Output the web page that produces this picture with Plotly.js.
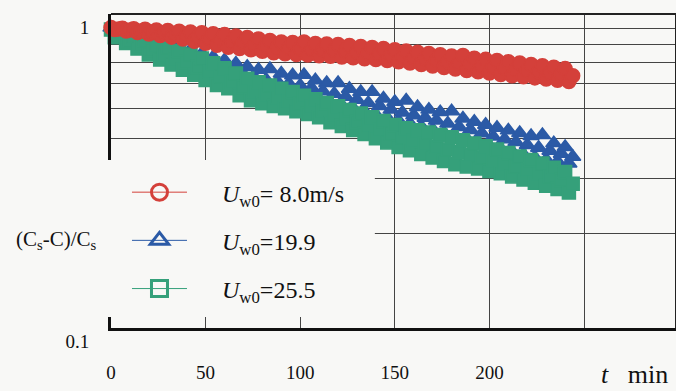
<!DOCTYPE html>
<html><head><meta charset="utf-8">
<script src="https://cdn.plot.ly/plotly-3.0.1.min.js"></script>
<style>html,body{margin:0;padding:0;background:#f8f8f6}#chart{width:676px;height:391px}</style>
</head><body><div id="chart"></div>
<script>
// time (min)
const tMin = [0,2,4,6,8,10,12,14,16,18,20,22,24,26,28,30,32,34,36,38,40,42,44,46,48,50,52,54,56,58,
  60,62,64,66,68,70,72,74,76,78,80,82,84,86,88,90,92,94,96,98,100,102,104,106,108,110,112,114,116,118,
  120,122,124,126,128,130,132,134,136,138,140,142,144,146,148,150,152,154,156,158,160,162,164,166,168,170,172,174,176,178,
  180,182,184,186,188,190,192,194,196,198,200,202,204,206,208,210,212,214,216,218,220,222,224,226,228,230,232,234,236,238,
  240,242,244];

// (Cs-C)/Cs, Uw0 = 8.0 m/s
const ratioU80 = [.905,.892,.896, .901,.882,.889, .897,.873,.883, .894,.864,.877, .890,.854,.870,
  .886,.844,.862, .881,.832,.853, .876,.819,.845, .872,.807,.836, .865,.795,.827,
  .860,.784,.818, .851,.777,.811, .842,.769,.800, .833,.761,.793, .824,.753,.784,
  .815,.747,.779, .812,.743,.776, .815,.740,.772, .806,.736,.770, .803,.733,.766,
  .800,.729,.762, .794,.725,.756, .788,.720,.751, .782,.716,.746, .776,.711,.740,
  .770,.705,.734, .763,.698,.727, .756,.690,.720, .749,.683,.712, .742,.675,.705,
  .735,.668,.698, .738,.661,.692, .723,.655,.686, .717,.649,.680, .711,.642,.674,
  .705,.636,.667, .698,.631,.661, .691,.626,.655, .684,.621,.649, .677,.615,.642,
  .670,.610,.636];

// (Cs-C)/Cs, Uw0 = 19.9 m/s
const ratioU199 = [.905,.878,.880, .887,.841,.852, .869,.804,.824, .850,.768,.797, .832,.734,.773,
  .812,.714,.752, .791,.694,.732, .770,.675,.712, .749,.655,.693, .730,.639,.676,
  .713,.628,.660, .696,.606,.643, .679,.590,.627, .665,.580,.618, .668,.572,.610,
  .647,.564,.601, .638,.556,.592, .640,.545,.581, .615,.534,.568, .603,.523,.557,
  .603,.512,.545, .578,.501,.533, .565,.490,.521, .565,.478,.509, .538,.467,.496,
  .525,.457,.486, .530,.448,.476, .506,.438,.467, .496,.429,.458, .487,.419,.448,
  .490,.409,.437, .465,.401,.427, .454,.390,.417, .444,.380,.407, .434,.372,.399,
  .426,.365,.391, .418,.357,.383, .409,.349,.375, .412,.344,.367, .388,.339,.359,
  .377,.334,.351];

// (Cs-C)/Cs, Uw0 = 25.5 m/s
const ratioU255 = [.892,.843,.853, .869,.809,.824, .846,.776,.796, .823,.743,.768, .801,.716,.745,
  .782,.690,.723, .762,.665,.703, .743,.640,.678, .722,.616,.655, .697,.594,.632,
  .672,.580,.608, .647,.551,.585, .622,.531,.567, .606,.520,.555, .592,.509,.543,
  .578,.501,.531, .564,.490,.519, .549,.480,.507, .535,.469,.494, .521,.452,.479,
  .508,.440,.466, .495,.427,.453, .482,.415,.441, .469,.402,.428, .456,.390,.416,
  .443,.377,.404, .433,.368,.395, .426,.358,.386, .419,.349,.378, .412,.340,.370,
  .405,.332,.363, .396,.327,.356, .387,.322,.349, .379,.316,.342, .370,.311,.335,
  .361,.304,.327, .352,.297,.319, .343,.290,.311, .334,.284,.304, .324,.277,.296,
  .314,.270,.288];

const seriesNames = ['<i>U</i><sub>w0</sub>= 8.0m/s', '<i>U</i><sub>w0</sub>=19.9', '<i>U</i><sub>w0</sub>=25.5'];
const yTickVals = [0.1,0.2,0.3,0.4,0.5,0.6,0.7,0.8,0.9,1];
const yTickText = ['0.1',' ',' ',' ',' ',' ',' ',' ',' ','1'];
const xTickVals = [0,50,100,150,200,250];
const xTickText = ['0','50','100','150','200',' '];

const RED = '#d4403a', BLUE = '#2b5aa6', GREEN = '#35a07a';
const SERIF = '"Liberation Serif", "Times New Roman", serif';
const BG = '#f8f8f6';
const GAP = '&nbsp;&nbsp;&nbsp;&nbsp;&nbsp;';

function dataTrace(y, color, symbol, size) {
  return {x: tMin, y: y, mode: 'markers', showlegend: false, cliponaxis: false,
    marker: {symbol: symbol, size: size, color: color, line: {color: color, width: 1.5}}};
}
function legendTrace(name, rank, color, symbol) {
  return {x: [null], y: [null], name: GAP + name, legendgroup: 'g' + rank, legendrank: rank,
    mode: 'lines+markers', line: {color: color, width: 1},
    marker: {symbol: symbol, size: 16, color: color, line: {color: color, width: 3}}};
}

const traces = [
  dataTrace(ratioU199, BLUE, 'triangle-up', 14),
  dataTrace(ratioU255, GREEN, 'square', 13),
  dataTrace(ratioU80, RED, 'circle', 14),
  legendTrace(seriesNames[0], 1, RED, 'circle-open'),
  legendTrace(seriesNames[1], 2, BLUE, 'triangle-up-open'),
  legendTrace(seriesNames[2], 3, GREEN, 'square-open')
];

const layout = {
  width: 676, height: 391,
  margin: {l: 111, r: 0, t: 14, b: 63},
  paper_bgcolor: BG, plot_bgcolor: BG,
  font: {family: SERIF, color: '#111', size: 19},
  showlegend: true,
  xaxis: {
    range: [0, 298.6], tickvals: xTickVals, ticktext: xTickText,
    showgrid: true, gridcolor: '#444', gridwidth: 1, zeroline: false,
    showline: true, linecolor: '#111', linewidth: 3, ticks: '',
    tickfont: {family: SERIF, size: 19, color: '#111'}, ticklabelstandoff: 25
  },
  yaxis: {
    type: 'log', range: [-1, 0], tickvals: yTickVals, ticktext: yTickText,
    showgrid: true, gridcolor: '#444', gridwidth: 1, zeroline: false,
    showline: true, linecolor: '#111', linewidth: 3, ticks: '',
    tickfont: {family: SERIF, size: 19, color: '#111'},
    ticklabelstandoff: 15, ticklabelshift: 13
  },
  shapes: [
    {type: 'line', xref: 'paper', yref: 'paper', x0: 0, x1: 1, y0: 1, y1: 1, line: {color: '#222', width: 2}},
    {type: 'line', xref: 'paper', yref: 'paper', x0: 1, x1: 1, y0: 0, y1: 1, line: {color: '#222', width: 2}},
    {type: 'rect', xref: 'paper', yref: 'paper', x0: -0.2, x1: 0.467, y0: 0.035, y1: 0.535,
     fillcolor: BG, line: {width: 0}, layer: 'above'}
  ],
  legend: {
    x: 0.0283, xanchor: 'left', y: 0.503, yanchor: 'top',
    bgcolor: 'rgba(0,0,0,0)', borderwidth: 0,
    font: {family: SERIF, size: 24, color: '#111'},
    tracegroupgap: 14, itemwidth: 55
  },
  annotations: [
    {text: '(C<sub>s</sub>-C)/C<sub>s</sub>', xref: 'paper', yref: 'paper', x: -0.0973, y: 0.28,
     xanchor: 'center', yanchor: 'middle',
     showarrow: false, font: {family: SERIF, size: 21, color: '#111'}},
    {text: '<i>t</i>&nbsp;&nbsp;&nbsp;min', xref: 'paper', yref: 'paper', x: 0.927, y: -0.2,
     xanchor: 'center', yanchor: 'bottom',
     showarrow: false, font: {family: SERIF, size: 26, color: '#111'}}
  ]
};

Plotly.newPlot('chart', traces, layout, {staticPlot: true, displayModeBar: false});
</script>
</body></html>
